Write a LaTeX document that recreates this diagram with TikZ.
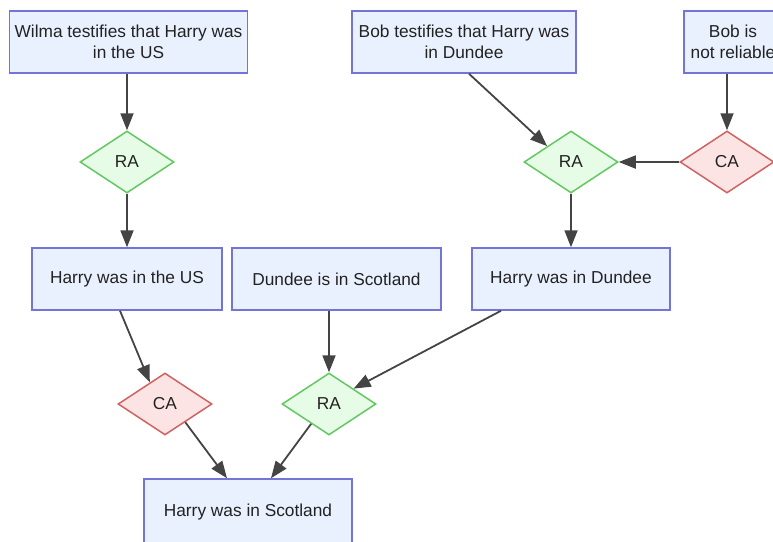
\documentclass[tikz,border=0pt]{standalone}
\usepackage{fontspec}
\setmainfont{Liberation Sans}
\usetikzlibrary{arrows.meta,shapes.geometric}
\definecolor{boxfill}{RGB}{234,241,254}
\definecolor{boxline}{RGB}{116,116,214}
\definecolor{rafill}{RGB}{230,252,230}
\definecolor{raline}{RGB}{98,200,98}
\definecolor{cafill}{RGB}{253,228,228}
\definecolor{caline}{RGB}{208,98,98}
\definecolor{txt}{RGB}{34,34,34}
\definecolor{edge}{RGB}{68,68,68}
\begin{document}
\begin{tikzpicture}[x=1pt,y=-1pt,>={Triangle[length=17pt,width=13pt]},font=\fontsize{17.3}{21.5}\selectfont,text=txt,
	prop/.style={draw=boxline,fill=boxfill,line width=1.5pt,align=center,minimum height=62pt,inner xsep=5pt},
	ra/.style={diamond,draw=raline,fill=rafill,line width=1.5pt,inner sep=0pt,minimum width=94pt,minimum height=62pt},
	ca/.style={ra,draw=caline,fill=cafill},
	link/.style={->,draw=edge,line width=1.8pt}]
				\useasboundingbox (0,0) rectangle (773,541);
				\node[prop,minimum width=237pt] (wilma) at (128.5,42) {Wilma testifies that Harry was\\in the US};
				\node[prop,minimum width=224pt] (bobt) at (464,42) {Bob testifies that Harry was\\in Dundee};
				\node[prop,minimum width=98pt] (bobnr) at (733,42) {Bob is\\not reliable};
				\node[ra] (ra1) at (127,162) {RA};
				\node[ra] (ra2) at (571,162) {RA};
				\node[ca] (ca1) at (727,162) {CA};
				\node[prop,minimum width=190pt] (hus) at (127,279) {Harry was in the US};
				\node[prop,minimum width=209pt] (dun) at (336.5,279) {Dundee is in Scotland};
				\node[prop,minimum width=198pt] (hdun) at (571,279) {Harry was in Dundee};
				\node[ca] (ca2) at (165,404) {CA};
				\node[ra] (ra3) at (329,404) {RA};
				\node[prop,minimum width=208pt,minimum height=66pt] (scot) at (248,512) {Harry was in Scotland};
				\draw[link] (wilma.south -| ra1.north) -- (ra1.north);
				\draw[link] (ra1) -- (hus);
				\draw[link] ([xshift=5pt]bobt.south) -- (ra2.north west);
				\draw[link] (bobnr.south -| ca1.north) -- (ca1.north);
				\draw[link] (ca1) -- (ra2);
				\draw[link] (ra2) -- (hdun);
				\draw[link] ([xshift=-7pt]hus.south) -- (ca2.125);
				\draw[link] (dun.south -| ra3.north) -- (ra3.north);
				\draw[link] ([xshift=-70pt]hdun.south) -- (ra3.32);
				\draw[link] (ca2.-42) -- ([xshift=-21pt]scot.north);
				\draw[link] (ra3.228) -- ([xshift=23pt]scot.north);
			\end{tikzpicture}
\end{document}
